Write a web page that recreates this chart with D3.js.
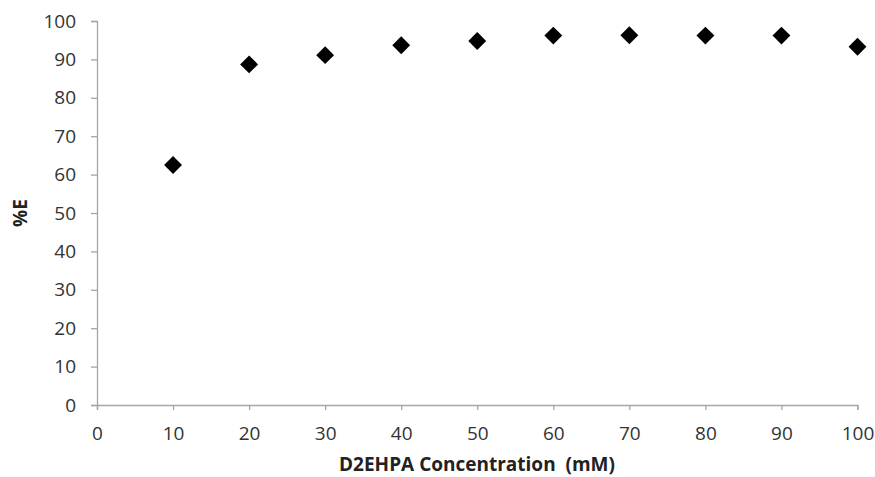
<!DOCTYPE html>
<html><head><meta charset="utf-8">
<script src="https://cdn.jsdelivr.net/npm/d3@7/dist/d3.min.js"></script>
<style>body{margin:0;background:#fff;} svg{display:block;}</style>
</head><body>
<svg id="c" width="875" height="477"></svg>
<script>
const concentrations = [10, 20, 30, 40, 50, 60, 70, 80, 90, 100];
const extraction = [62.5, 88.7, 91.1, 93.7, 94.8, 96.2, 96.3, 96.2, 96.2, 93.3];
const xTicks = [0,10,20,30,40,50,60,70,80,90,100];
const yTicks = [0,10,20,30,40,50,60,70,80,90,100];
const xTitle = "D2EHPA Concentration  (mM)";
const yTitle = "%E";

const svg = d3.select("#c");
const x = d3.scaleLinear().domain([0,100]).range([97, 857.5]);
const y = d3.scaleLinear().domain([0,100]).range([405, 21]);
const font = "'Open Sans', sans-serif";

const xa = svg.append("g").attr("transform","translate(0,405)")
  .call(d3.axisBottom(x).tickValues(xTicks).tickSize(5).tickPadding(17));
const ya = svg.append("g").attr("transform","translate(97,0)")
  .call(d3.axisLeft(y).tickValues(yTicks).tickSize(6).tickPadding(15));
[xa, ya].forEach(a => {
  a.select(".domain").attr("stroke","#a6a6a6").attr("stroke-width",1.3);
  a.selectAll(".tick line").attr("stroke","#a6a6a6").attr("stroke-width",1.3);
  a.selectAll(".tick text").attr("fill","#333").style("font-family",font).style("font-size","19px");
});

svg.append("g").selectAll("path").data(concentrations).join("path")
  .attr("d", d3.symbol().type(d3.symbolSquare).size(160))
  .attr("transform", (d,i) => `translate(${x(d)},${y(extraction[i])}) rotate(45)`)
  .attr("fill","#000");

svg.append("text").attr("x", 477).attr("y", 471).attr("text-anchor","middle")
  .style("font-family",font).style("font-size","19px").style("font-weight","bold")
  .style("white-space","pre")
  .attr("fill","#222").text(xTitle);
svg.append("text").attr("transform","translate(27,213) rotate(-90)").attr("text-anchor","middle")
  .style("font-family",font).style("font-size","19px").style("font-weight","bold")
  .attr("fill","#222").text(yTitle);
</script>
</body></html>
